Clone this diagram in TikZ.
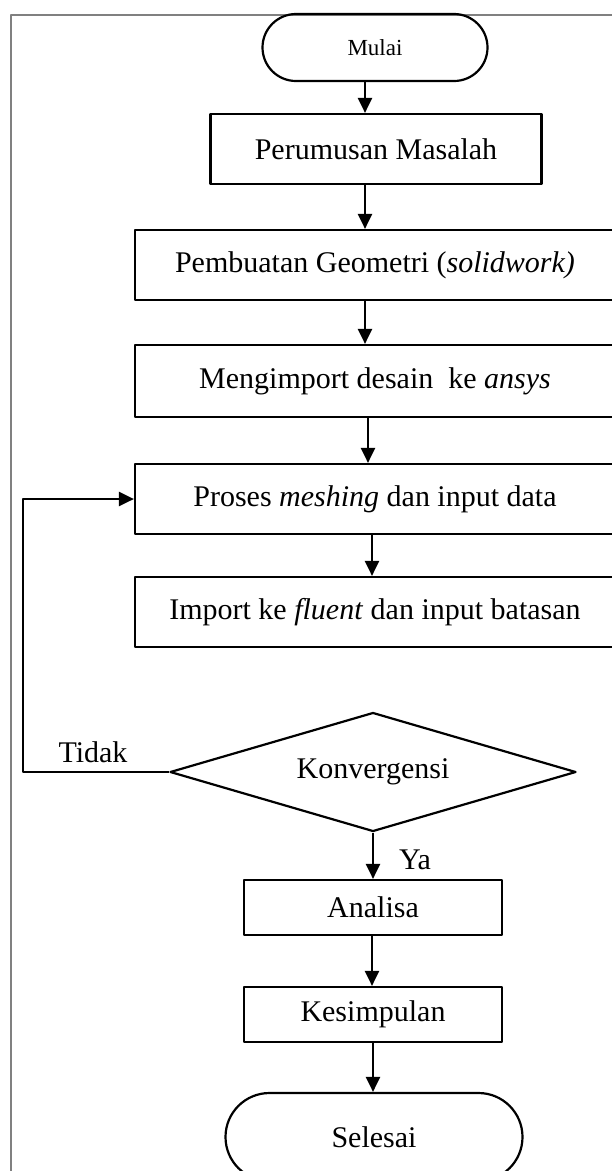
\documentclass[tikz,border=0pt]{standalone}
\usepackage{fontspec}
\setmainfont{Liberation Serif}
\usetikzlibrary{arrows.meta,shapes.geometric,shapes.misc,calc}

\begin{document}
\begin{tikzpicture}[x=1pt,y=-1pt,line join=round,
  kotak/.style={draw,line width=2.2pt,rectangle,minimum height=70pt,inner sep=0pt,font=\fontsize{30}{36}\selectfont},
  ujung/.style={draw,line width=2.2pt,rounded rectangle,inner sep=0pt,font=\fontsize{30}{36}\selectfont},
  keputusan/.style={draw,line width=2.2pt,diamond,shape aspect=3.4,inner sep=0pt,minimum width=406pt,minimum height=119pt,font=\fontsize{30}{36}\selectfont},
  label/.style={font=\fontsize{30}{36}\selectfont},
  panah/.style={line width=2.2pt,-{Triangle[length=15pt,width=14pt]}}]
\useasboundingbox (0,0) rectangle (612,1171);
\clip (0,0) rectangle (612,1171);
\draw[gray,line width=1.5pt] (11,1171) -- (11,15) -- (612,15);
\node[ujung,minimum width=225pt,minimum height=67pt,font=\fontsize{23}{28}\selectfont] (mulai) at (375,47.5) {Mulai};
\node[kotak,minimum width=331pt] (rumus) at (376,149) {Perumusan Masalah};
\node[kotak,minimum width=480pt] (geometri) at (375,265) {Pembuatan Geometri (\textit{solidwork)}};
\node[kotak,minimum width=480pt,minimum height=72pt] (impor) at (375,381) {Mengimport desain\ \ ke \textit{ansys}};
\node[kotak,minimum width=480pt] (mesh) at (375,499) {Proses \textit{meshing} dan input data};
\node[kotak,minimum width=480pt] (fluent) at (375,612) {Import ke \textit{fluent} dan input batasan};
\node[keputusan] (konv) at (373,772) {Konvergensi};
\node[kotak,minimum width=258pt,minimum height=55pt] (analisa) at (373,907.5) {Analisa};
\node[kotak,minimum width=258pt,minimum height=55pt] (simpul) at (373,1014.5) {Kesimpulan};
\node[ujung,minimum width=297pt,minimum height=88pt] (selesai) at (374,1137) {Selesai};
\foreach \a/\b/\s in {mulai/rumus/-10,rumus/geometri/-11,geometri/impor/-10,impor/mesh/-7,mesh/fluent/-3,konv/analisa/0,analisa/simpul/-1,simpul/selesai/0}{
\draw[panah] ([xshift=\s pt]\a.south) -- ([xshift=\s pt]\a.south |- \b.north);}
\coordinate (kiri) at (23,772);
\draw[panah] (konv.west) -- (kiri) |- (mesh.west);
\node[label] (tidak) at (93,752) {Tidak};
\node[label] (ya) at (415,860) {Ya};
\end{tikzpicture}
\end{document}
